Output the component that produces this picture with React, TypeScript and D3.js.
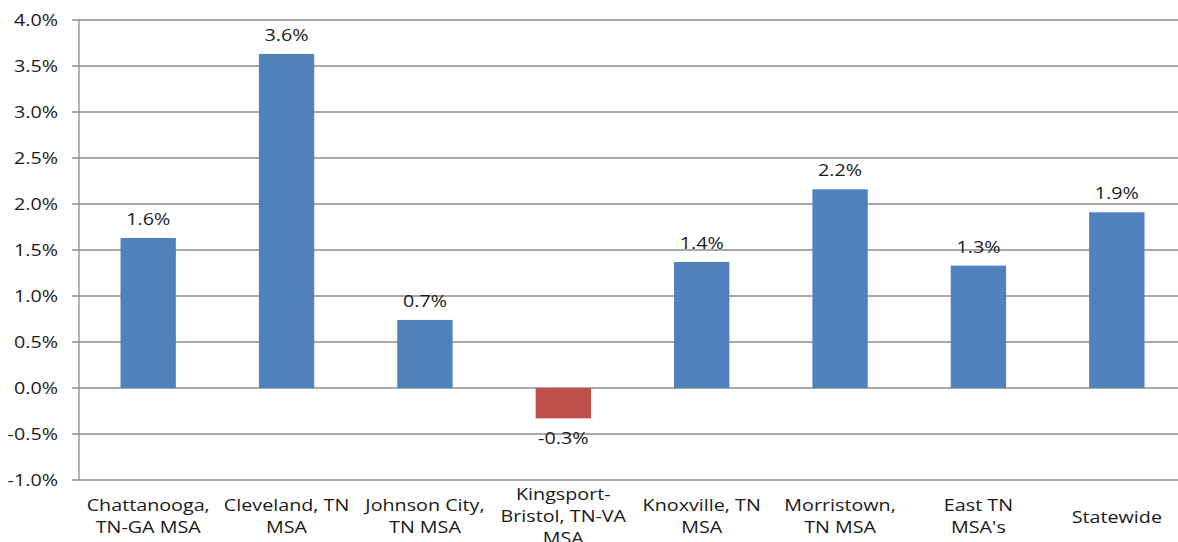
import React from "react";
import * as d3 from "d3";

const categories: string[][] = [
  ["Chattanooga,", "TN-GA MSA"],
  ["Cleveland, TN", "MSA"],
  ["Johnson City,", "TN MSA"],
  ["Kingsport-", "Bristol, TN-VA", "MSA"],
  ["Knoxville, TN", "MSA"],
  ["Morristown,", "TN MSA"],
  ["East TN", "MSA's"],
  ["Statewide"],
];
const values: number[] = [1.63, 3.63, 0.74, -0.33, 1.37, 2.16, 1.33, 1.91];
const labels: string[] = ["1.6%", "3.6%", "0.7%", "-0.3%", "1.4%", "2.2%", "1.3%", "1.9%"];
const yTicks: number[] = [-1, -0.5, 0, 0.5, 1, 1.5, 2, 2.5, 3, 3.5, 4];

const W = 1178;
const H = 542;
const left = 79;
const right = 1186;
const top = 20;
const bottom = 480;
const FONT = "'Open Sans', sans-serif";
const FS = 17;
const SX = 1.16;

function T({ x, y, anchor, children }: { x: number; y: number; anchor: string; children: React.ReactNode }) {
  return (
    <g transform={`translate(${x},${y}) scale(${SX},1)`}>
      <text x={0} y={0} dy="0.35em" textAnchor={anchor} fontSize={FS} fill="#1a1a1a">
        {children}
      </text>
    </g>
  );
}

export default function App() {
  const x = d3
    .scaleBand<number>()
    .domain(d3.range(categories.length))
    .range([left, right])
    .paddingInner(0.6)
    .paddingOuter(0.3);
  const y = d3.scaleLinear().domain([-1, 4]).range([bottom, top]);

  return (
    <svg
      width={W}
      height={H}
      style={{ position: "absolute", left: 0, top: 0, background: "#fff" }}
      fontFamily={FONT}
    >
      {yTicks.map((t) => (
        <g key={t}>
          <line x1={left - 7} x2={W} y1={y(t)} y2={y(t)} stroke="#8c8c8c" strokeWidth={1.3} />
          <T x={58} y={y(t)} anchor="end">
            {t.toFixed(1) + "%"}
          </T>
        </g>
      ))}
      <line x1={left} x2={left} y1={top} y2={bottom} stroke="#8c8c8c" strokeWidth={1.3} />
      {values.map((v, i) => (
        <rect
          key={i}
          x={x(i)}
          width={x.bandwidth()}
          y={v >= 0 ? y(v) : y(0)}
          height={Math.abs(y(v) - y(0))}
          fill={v >= 0 ? "#4f81bd" : "#c0504d"}
        />
      ))}
      {values.map((v, i) => (
        <T
          key={"l" + i}
          x={(x(i) as number) + x.bandwidth() / 2}
          y={v >= 0 ? y(v) - 19 : y(v) + 20}
          anchor="middle"
        >
          {labels[i]}
        </T>
      ))}
      {categories.map((lines, i) => {
        const cx = (x(i) as number) + x.bandwidth() / 2;
        const startY = lines.length === 1 ? 517 : 505 - ((lines.length - 2) * 22) / 2;
        return (
          <g key={"c" + i}>
            {lines.map((ln, j) => (
              <T key={j} x={cx} y={startY + j * 22} anchor="middle">
                {ln}
              </T>
            ))}
          </g>
        );
      })}
    </svg>
  );
}
